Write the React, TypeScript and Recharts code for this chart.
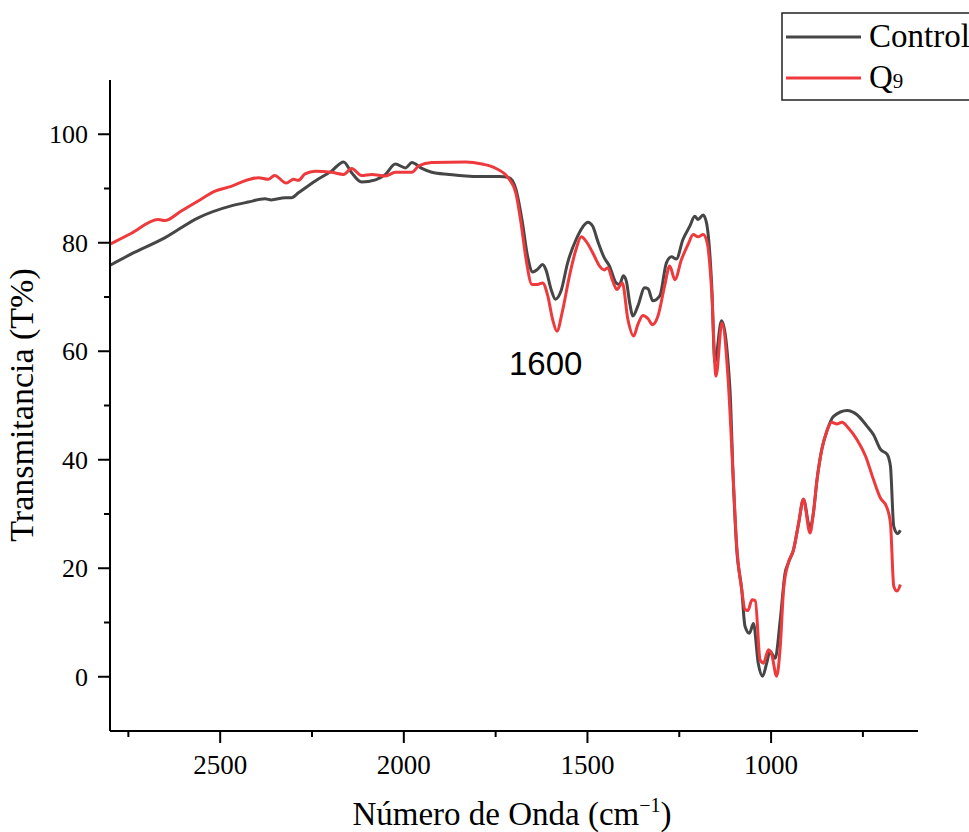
import React from "react";
import { LineChart, Line, XAxis, YAxis, ReferenceDot } from "recharts";

const wnControl = [2801, 2743, 2651, 2560, 2470, 2424, 2378, 2361, 2323, 2306, 2287, 2241, 2197, 2164, 2142, 2115, 2077, 2050, 2023, 1995, 1978, 1951, 1924, 1877, 1831, 1795, 1740, 1713, 1695, 1677, 1663, 1649, 1636, 1622, 1613, 1599, 1587, 1572, 1554, 1531, 1513, 1499, 1486, 1472, 1454, 1440, 1422, 1413, 1402, 1394, 1385, 1376, 1363, 1344, 1335, 1322, 1303, 1285, 1271, 1258, 1240, 1221, 1208, 1199, 1185, 1176, 1162, 1153, 1135, 1112, 1103, 1094, 1080, 1071, 1059, 1048, 1035, 1023, 1012, 1003, 989, 975, 962, 953, 939, 925, 912, 894, 885, 875, 862, 848, 830, 793, 766, 739, 721, 702, 684, 675, 666, 655, 648];
const tControl = [75.8, 77.9, 80.9, 84.6, 86.8, 87.5, 88.1, 87.9, 88.3, 88.3, 89.2, 91.4, 93.2, 94.9, 92.9, 91.2, 91.6, 92.6, 94.5, 93.8, 94.8, 93.7, 93.0, 92.6, 92.3, 92.2, 92.2, 92.0, 89.9, 83.7, 77.5, 74.6, 75.1, 76.0, 75.0, 71.4, 69.6, 71.1, 76.3, 80.6, 82.9, 83.8, 83.1, 80.3, 77.2, 75.7, 72.6, 72.3, 73.9, 72.9, 68.9, 66.5, 68.3, 71.7, 71.5, 69.3, 70.2, 76.3, 77.4, 77.0, 80.6, 83.1, 84.9, 84.3, 85.1, 83.7, 72.6, 58.0, 65.6, 53.0, 36.3, 24.0, 16.1, 9.3, 8.0, 9.8, 2.5, 0.1, 2.5, 4.7, 3.4, 10.5, 19.1, 21.0, 23.4, 28.3, 32.7, 27.4, 30.1, 36.3, 41.9, 45.3, 48.0, 49.1, 48.3, 46.2, 44.6, 41.9, 41.0, 38.8, 27.7, 26.4, 27.0];

const wnQ9 = [2801, 2743, 2669, 2651, 2607, 2560, 2514, 2470, 2424, 2396, 2369, 2352, 2320, 2300, 2287, 2269, 2241, 2197, 2164, 2142, 2115, 2087, 2050, 2023, 1978, 1959, 1924, 1831, 1787, 1749, 1713, 1695, 1681, 1667, 1651, 1636, 1622, 1608, 1595, 1583, 1569, 1549, 1531, 1517, 1504, 1486, 1467, 1454, 1445, 1431, 1420, 1405, 1390, 1374, 1363, 1349, 1335, 1323, 1308, 1290, 1276, 1262, 1244, 1226, 1212, 1199, 1185, 1174, 1162, 1150, 1134, 1117, 1103, 1094, 1080, 1071, 1063, 1052, 1043, 1030, 1021, 1007, 998, 985, 975, 966, 953, 939, 925, 912, 894, 885, 875, 862, 848, 835, 821, 807, 789, 766, 743, 721, 702, 686, 675, 666, 657, 648];
const tQ9 = [79.7, 81.7, 84.3, 84.1, 85.8, 87.7, 89.5, 90.4, 91.6, 92.0, 91.7, 92.4, 91.0, 91.7, 91.5, 92.7, 93.2, 93.0, 92.6, 93.7, 92.4, 92.6, 92.3, 93.0, 93.0, 94.2, 94.8, 94.9, 94.5, 93.7, 91.7, 89.2, 83.7, 76.9, 72.3, 72.3, 72.6, 70.2, 65.9, 63.7, 67.1, 73.9, 78.8, 81.1, 80.3, 78.2, 75.7, 75.0, 75.4, 72.9, 71.4, 72.6, 65.9, 62.8, 64.9, 66.6, 66.0, 64.9, 66.5, 72.0, 75.7, 73.2, 76.9, 79.7, 81.5, 81.1, 81.5, 80.0, 71.4, 55.4, 65.2, 54.8, 36.5, 24.5, 16.1, 12.4, 12.2, 14.2, 14.0, 3.1, 2.5, 5.0, 4.0, 0.1, 5.6, 16.1, 21.0, 23.4, 28.3, 32.7, 26.5, 30.1, 36.3, 41.9, 45.3, 46.9, 46.6, 46.9, 45.8, 43.7, 40.7, 36.3, 32.9, 31.4, 28.3, 16.7, 15.8, 17.0];

const xTicks = [2750, 2500, 2250, 2000, 1750, 1500, 1250, 1000, 750];
const yTicks = [0, 10, 20, 30, 40, 50, 60, 70, 80, 90, 100];
const seriesNames = ["Control", "Q9"];
const annotation = { label: "1600", wn: 1600, t: 55.7 };

const controlData = wnControl.map((w, i) => ({ wn: w, t: tControl[i] }));
const q9Data = wnQ9.map((w, i) => ({ wn: w, t: tQ9[i] }));

const SERIF = "'Liberation Serif', 'Times New Roman', serif";
const SANS = "'Liberation Sans', Arial, sans-serif";
const C_CONTROL = "#464646";
const C_Q9 = "#ee3a3d";

const YTick = (props: any) => {
  const { x, y, payload } = props;
  const major = payload.value % 20 === 0;
  return (
    <g>
      <line x1={x - (major ? 12 : 6)} x2={x} y1={y} y2={y} stroke="#000" strokeWidth={2} />
      {major && (
        <text x={x - 22} y={y} dy="0.35em" textAnchor="end" fontFamily={SERIF} fontSize={26} fill="#000">
          {payload.value}
        </text>
      )}
    </g>
  );
};

const XTick = (props: any) => {
  const { x, y, payload } = props;
  const major = payload.value % 500 === 0;
  return (
    <g>
      <line x1={x} x2={x} y1={y} y2={y + (major ? 12 : 6)} stroke="#000" strokeWidth={2} />
      {major && (
        <text x={x} y={y + 43} textAnchor="middle" fontFamily={SERIF} fontSize={27} fill="#000">
          {payload.value}
        </text>
      )}
    </g>
  );
};

const AnnotationShape = (props: any) => {
  const { cx, cy } = props;
  return (
    <text x={cx - 5} y={cy} textAnchor="middle" fontFamily={SANS} fontSize={33} fill="#000">
      {annotation.label}
    </text>
  );
};

export default function App() {
  return (
    <div style={{ position: "absolute", left: 0, top: 0, width: 969, height: 832, background: "#fff", overflow: "hidden" }}>
      <LineChart width={969} height={832} margin={{ top: 80, right: 51, bottom: 0, left: 0 }}>
        <XAxis
          dataKey="wn"
          type="number"
          domain={[600, 2800]}
          reversed
          allowDataOverflow
          ticks={xTicks}
          tick={<XTick />}
          tickLine={false}
          tickSize={0}
          tickMargin={0}
          height={101}
          axisLine={{ stroke: "#000", strokeWidth: 2 }}
          interval={0}
        />
        <YAxis
          type="number"
          domain={[-10, 110]}
          allowDataOverflow
          ticks={yTicks}
          tick={<YTick />}
          tickLine={false}
          tickSize={0}
          tickMargin={0}
          width={110}
          axisLine={{ stroke: "#000", strokeWidth: 2 }}
          interval={0}
        />
        <Line data={controlData} dataKey="t" name={seriesNames[0]} stroke={C_CONTROL} strokeWidth={3} dot={false} isAnimationActive={false} type="monotone" />
        <Line data={q9Data} dataKey="t" name={seriesNames[1]} stroke={C_Q9} strokeWidth={3} dot={false} isAnimationActive={false} type="monotone" />
        <ReferenceDot x={annotation.wn} y={annotation.t} r={0} shape={<AnnotationShape />} ifOverflow="visible" />
      </LineChart>
      <svg style={{ position: "absolute", left: 0, top: 0 }} width={969} height={832} pointerEvents="none">
        <text transform="translate(33, 405) rotate(-90)" textAnchor="middle" fontFamily={SERIF} fontSize={34} fill="#000">
          Transmitancia (T%)
        </text>
        <text x={512} y={825} textAnchor="middle" fontFamily={SERIF} fontSize={33} fill="#000">
          Número de Onda (cm<tspan fontSize={20} dy={-13}>−1</tspan><tspan dy={13}>)</tspan>
        </text>
        <rect x={782} y={13} width={200} height={87} fill="#fff" stroke="#222" strokeWidth={1.5} />
        <line x1={786} x2={861} y1={37} y2={37} stroke={C_CONTROL} strokeWidth={3} />
        <text x={869} y={47} fontFamily={SERIF} fontSize={33} fill="#000">{seriesNames[0]}</text>
        <line x1={786} x2={861} y1={78} y2={78} stroke={C_Q9} strokeWidth={3} />
        <text x={869} y={88} fontFamily={SERIF} fontSize={33} fill="#000">
          Q<tspan fontSize={21}>9</tspan>
        </text>
      </svg>
    </div>
  );
}
